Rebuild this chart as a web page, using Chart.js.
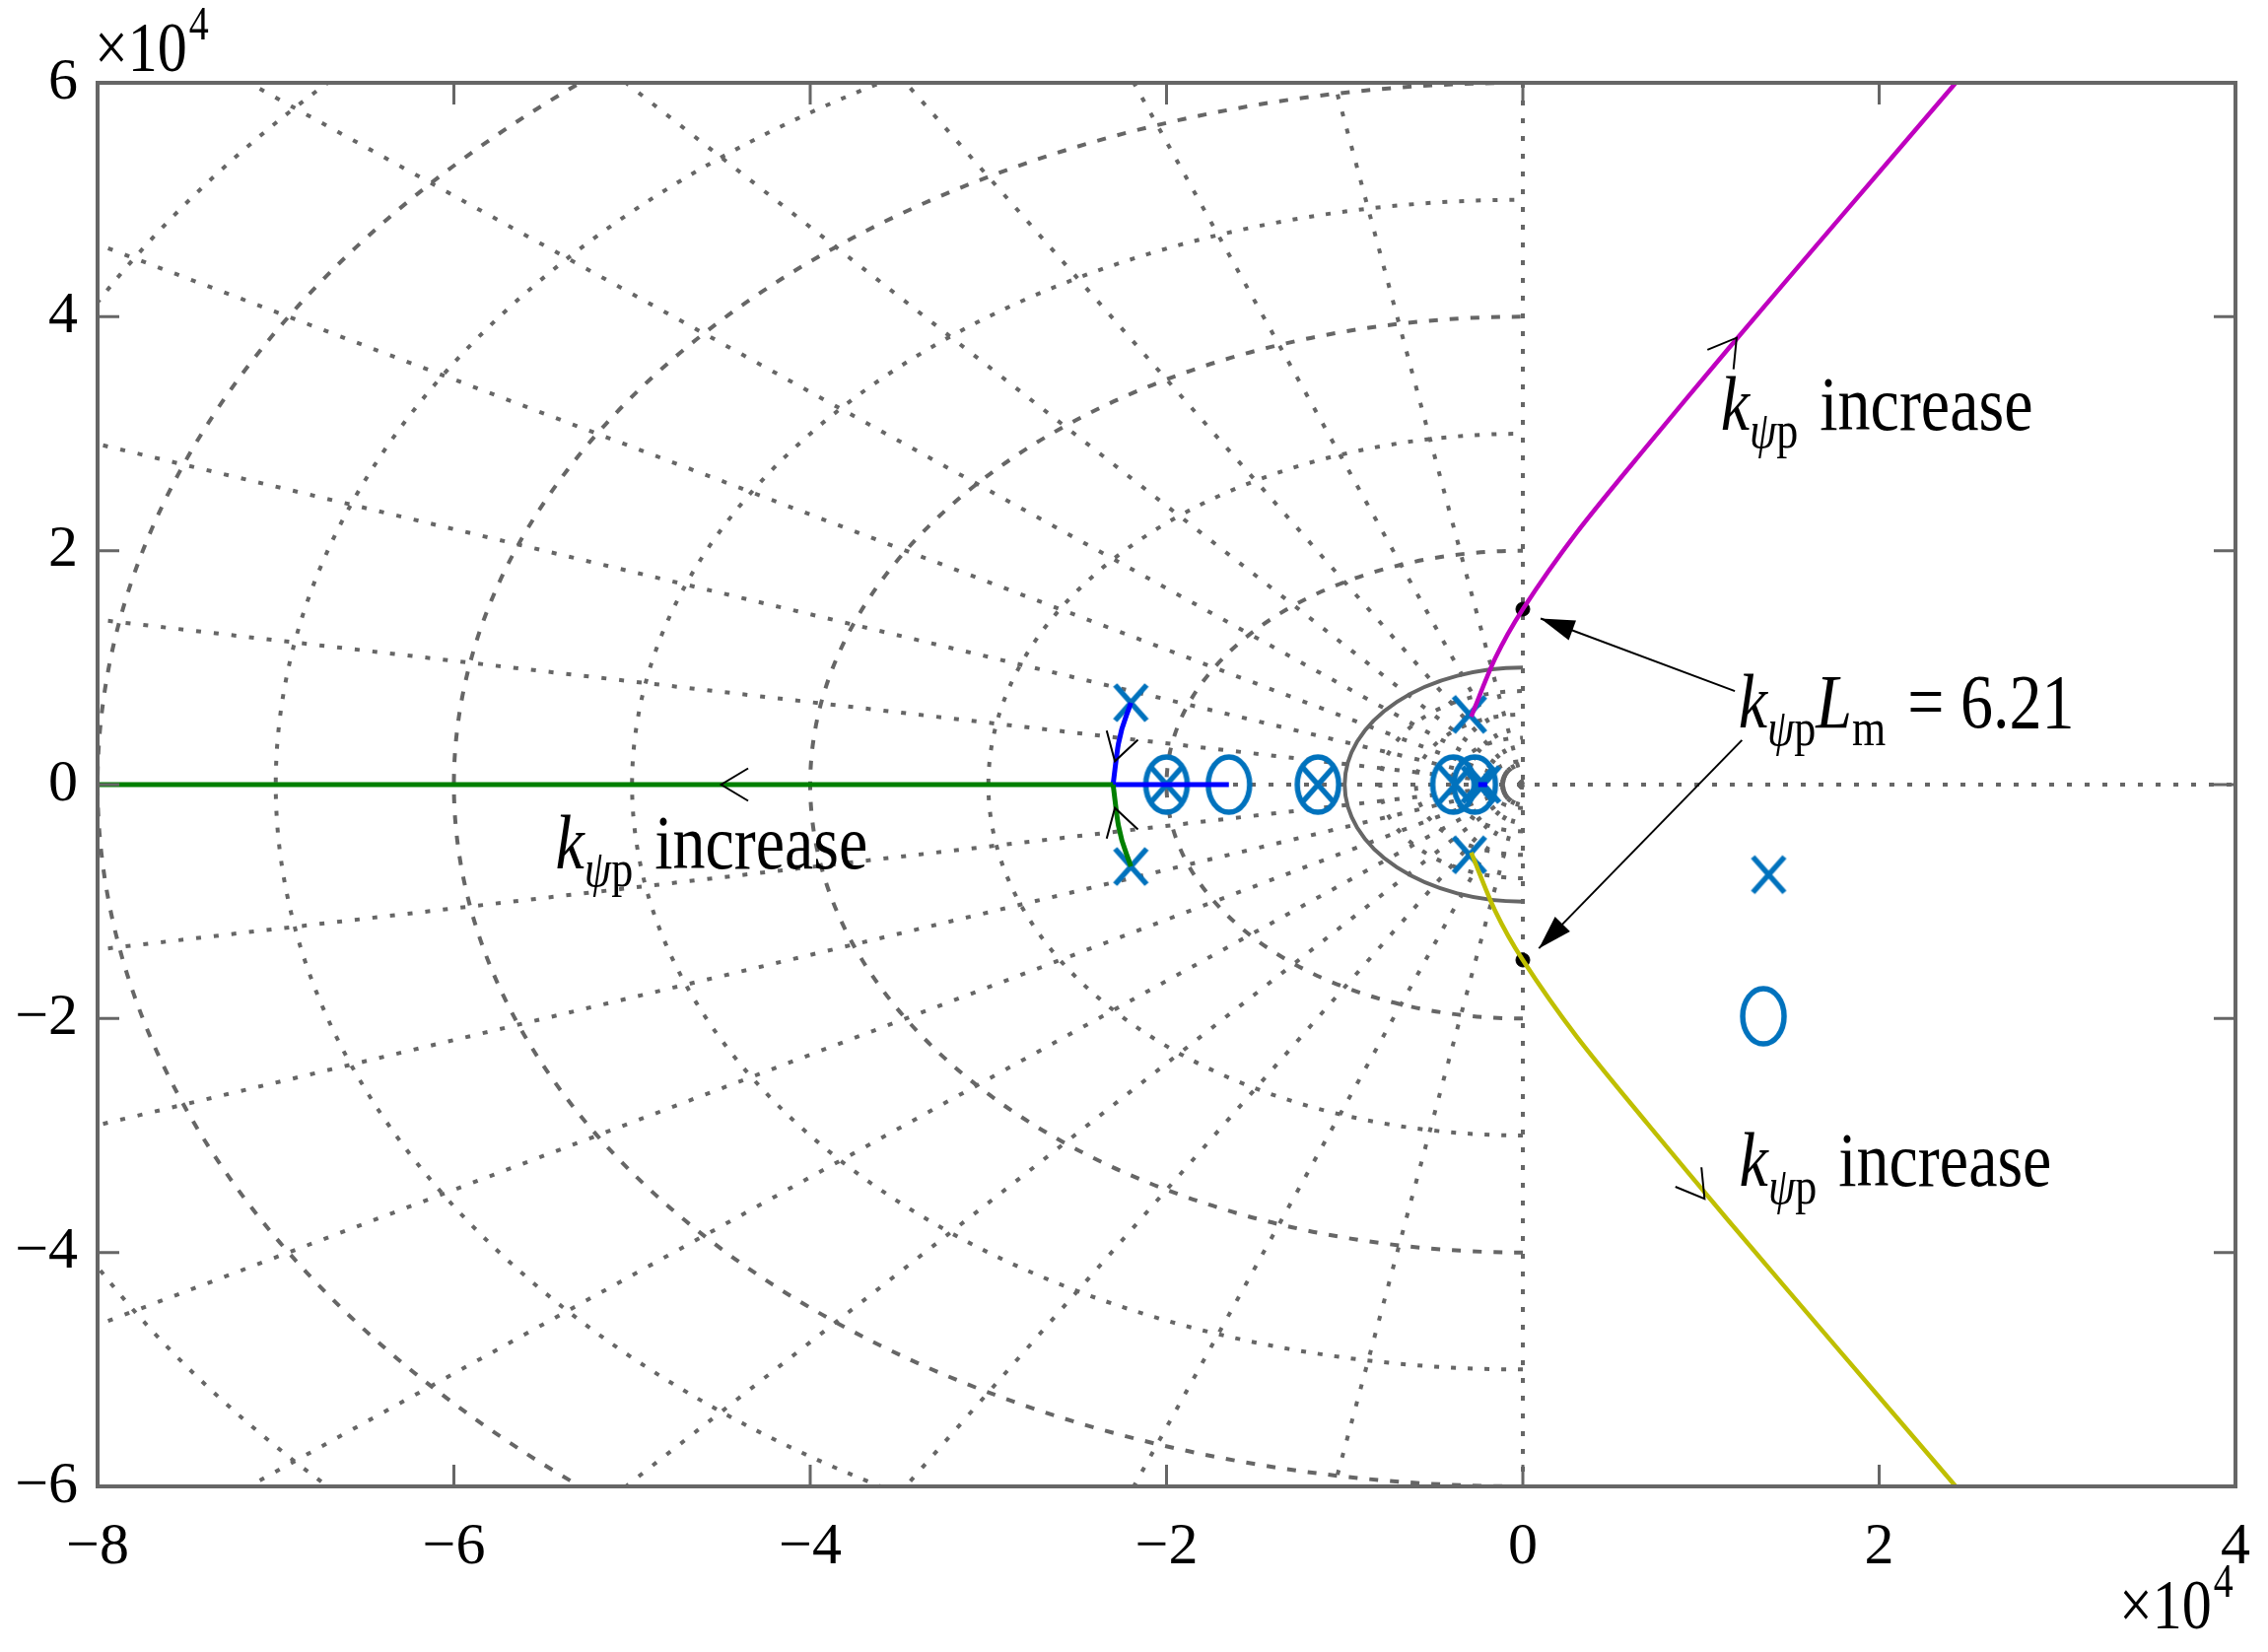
<!DOCTYPE html>
<html><head><meta charset="utf-8">
<script src="https://cdn.jsdelivr.net/npm/chart.js@4/dist/chart.umd.min.js"></script>
<style>html,body{margin:0;padding:0;background:#fff}</style></head>
<body><canvas id="c" width="2301" height="1676"></canvas>
<script>
const xTicks=[-8,-6,-4,-2,0,2,4];
const yTicks=[-6,-4,-2,0,2,4,6];
const greenAxis=[{x:-2.3,y:0},{x:-8,y:0}];
const greenCurve=[{x:-2.2,y:-0.7},{x:-2.27,y:-0.35},{x:-2.3,y:0}];
const blueCurve=[{x:-2.2,y:0.7},{x:-2.27,y:0.35},{x:-2.3,y:0}];
const blueAxis=[{x:-2.3,y:0},{x:-1.65,y:0}];
const blueSmall=[{x:-0.25,y:0},{x:-0.2,y:0}];
const magenta=[{x:-0.29,y:0.58},{x:-0.155,y:1.08},{x:0,y:1.5},{x:0.3,y:2.15},{x:0.7,y:2.9},{x:1.15,y:3.72},{x:1.8,y:4.88},{x:2.43,y:6.0}];
const yellow=[{x:-0.29,y:-0.58},{x:-0.155,y:-1.08},{x:0,y:-1.5},{x:0.3,y:-2.15},{x:0.7,y:-2.9},{x:1.15,y:-3.72},{x:1.8,y:-4.88},{x:2.43,y:-6.0}];
const poles=[{x:-2.2,y:0.7},{x:-2.2,y:-0.7},{x:-2.0,y:0},{x:-1.15,y:0},{x:-0.38,y:0},{x:-0.25,y:0},{x:-0.22,y:0},{x:-0.3,y:0.6},{x:-0.3,y:-0.6},{x:1.38,y:-0.77}];
const zeros=[{x:-2.0,y:0},{x:-1.65,y:0},{x:-1.15,y:0},{x:-0.39,y:0},{x:-0.27,y:0},{x:1.35,y:-1.98}];
const dots=[{x:0,y:1.5},{x:0,y:-1.5}];
const radii=[0.2,0.4,0.6,0.8,1,2,3,4,5,6,7,8,9,10];
const anglesDeg=[10,20,30,40,50,60,70,80];
const S=1e4;
const sc=a=>a.map(p=>({x:p.x*S,y:p.y*S}));
const GREY='#666666', MK='#0072BD';

function mkImg(kind){const c=document.createElement('canvas');c.width=52;c.height=66;const g=c.getContext('2d');
 g.strokeStyle=MK;g.lineWidth=5.5;g.lineCap='butt';
 if(kind==='o'){g.beginPath();g.ellipse(26,33,21,28,0,0,2*Math.PI);g.stroke();}
 else{g.beginPath();g.moveTo(10,15);g.lineTo(42,51);g.moveTo(42,15);g.lineTo(10,51);g.stroke();}
 return c;}
const xImg=mkImg('x'), oImg=mkImg('o');

const gridPlugin={id:'grid',beforeDatasetsDraw(ch){
 const {ctx,chartArea:a,scales:{x,y}}=ch;
 ctx.save();ctx.beginPath();ctx.rect(a.left,a.top,a.right-a.left,a.bottom-a.top);ctx.clip();
 const cx=x.getPixelForValue(0), cy=y.getPixelForValue(0);
 const kx=(x.getPixelForValue(S)-cx), ky=(cy-y.getPixelForValue(S));
 ctx.strokeStyle=GREY;
 radii.forEach(r=>{
  ctx.lineWidth=4; ctx.setLineDash(r===1?[]:(r>=2&&r%2===0?[9,12]:[5,12]));
  ctx.beginPath();ctx.ellipse(cx,cy,r*kx,r*ky,0,Math.PI/2,3*Math.PI/2);ctx.stroke();
 });
 ctx.setLineDash([5,13]);ctx.lineWidth=4;
 anglesDeg.forEach(d=>{const t=d*Math.PI/180;const L=20*S;
  [1,-1].forEach(s=>{ctx.beginPath();ctx.moveTo(cx,cy);
   ctx.lineTo(x.getPixelForValue(-L*Math.cos(t)),y.getPixelForValue(s*L*Math.sin(t)));ctx.stroke();});
 });
 ctx.beginPath();ctx.moveTo(a.left,cy);ctx.lineTo(a.right,cy);ctx.stroke();
 ctx.beginPath();ctx.moveTo(cx,a.top);ctx.lineTo(cx,a.bottom);ctx.stroke();
 ctx.restore();
},
afterDraw(ch){
 const {ctx,chartArea:a,scales:{x,y}}=ch;
 ctx.save();ctx.setLineDash([]);
 ctx.strokeStyle=GREY;ctx.lineWidth=4;ctx.strokeRect(a.left,a.top,a.right-a.left,a.bottom-a.top);
 ctx.lineWidth=3;
 xTicks.forEach(v=>{const p=x.getPixelForValue(v*S);ctx.beginPath();ctx.moveTo(p,a.bottom);ctx.lineTo(p,a.bottom-22);ctx.moveTo(p,a.top);ctx.lineTo(p,a.top+22);ctx.stroke();});
 yTicks.forEach(v=>{const p=y.getPixelForValue(v*S);ctx.beginPath();ctx.moveTo(a.left,p);ctx.lineTo(a.left+22,p);ctx.moveTo(a.right,p);ctx.lineTo(a.right-22,p);ctx.stroke();});
 const P=(px,py)=>[x.getPixelForValue(px*S),y.getPixelForValue(py*S)];
 ctx.strokeStyle='#000';ctx.lineWidth=2;
 const chev=(px,py,ang)=>{const [X,Y]=P(px,py);const l=32;
  ctx.beginPath();ctx.moveTo(X+l*Math.cos(ang+2.6),Y+l*Math.sin(ang+2.6));ctx.lineTo(X,Y);ctx.lineTo(X+l*Math.cos(ang-2.6),Y+l*Math.sin(ang-2.6));ctx.stroke();};
 chev(1.2,3.82,-0.93);chev(1.02,-3.54,0.93);chev(-4.5,0,Math.PI);
 chev(-2.29,0.2,1.85);chev(-2.29,-0.2,-1.85);
 const arrow=(x0,y0,x1,y1)=>{const [A,B]=P(x0,y0),[C,D]=P(x1,y1);
  ctx.beginPath();ctx.moveTo(A,B);ctx.lineTo(C,D);ctx.stroke();
  const t=Math.atan2(D-B,C-A),l=36;ctx.beginPath();ctx.moveTo(C,D);
  ctx.lineTo(C-l*Math.cos(t-0.3),D-l*Math.sin(t-0.3));ctx.lineTo(C-l*Math.cos(t+0.3),D-l*Math.sin(t+0.3));ctx.closePath();ctx.fillStyle='#000';ctx.fill();};
 arrow(1.19,0.8,0.1,1.42);arrow(1.23,0.38,0.09,-1.4);
 ctx.fillStyle='#000';ctx.textBaseline='alphabetic';ctx.textAlign='left';
 const F='"Liberation Serif", serif';
 const SY=1.2;
 const txt=(s,X,Y,font)=>{ctx.font=font;ctx.save();ctx.translate(X,Y);ctx.scale(1,SY);ctx.fillText(s,0,0);ctx.restore();return ctx.measureText(s).width;};
 const kp=(px,py,rest,lm)=>{let [X,Y]=P(px,py);
  X+=txt('k',X,Y,'italic 66px '+F);
  X+=txt('ψ',X,Y+18,'italic 44px '+F);
  X+=txt('p',X,Y+18,'44px '+F);
  if(lm){X+=txt('L',X,Y,'italic 66px '+F);X+=txt('m',X,Y+18,'44px '+F);}
  txt(rest,X+22,Y,'66px '+F);};
 kp(1.11,3.03,'increase');kp(1.215,-3.43,'increase');kp(-5.43,-0.72,'increase');
 kp(1.21,0.49,'= 6.21',true);
 const x104=(X,Y)=>{const w=txt('×10',X,Y,'60px '+F);txt('4',X+w+2,Y-32,'40px '+F);};
 x104(96,72);x104(2150,1652);
 ctx.restore();
}};

const line=(d,c,w)=>({data:sc(d),showLine:true,borderColor:c,borderWidth:w,pointRadius:0,fill:false,cubicInterpolationMode:'monotone'});
new Chart(document.getElementById('c'),{type:'scatter',
 data:{datasets:[
  line(greenAxis,'#008000',5),line(greenCurve,'#008000',5),line(blueCurve,'#0000FF',5),
  line(blueAxis,'#0000FF',5),line(blueSmall,'#0000FF',5),
  {...line(magenta,'#BF00BF',4.5),cubicInterpolationMode:'default',tension:0.3},
  {...line(yellow,'#BFBF00',4.5),cubicInterpolationMode:'default',tension:0.3},
  {data:sc(poles),pointStyle:xImg,pointRadius:20,showLine:false},
  {data:sc(zeros),pointStyle:oImg,pointRadius:20,showLine:false},
  {data:sc(dots),pointStyle:'circle',pointRadius:7,borderColor:'#000',backgroundColor:'#000',showLine:false}
 ]},
 options:{responsive:false,animation:false,clip:false,
  layout:{padding:{left:0,right:32,top:84,bottom:0}},
  plugins:{legend:{display:false},tooltip:{enabled:false}},
  scales:{
   x:{type:'linear',min:-8*S,max:4*S,afterBuildTicks(s){s.ticks=xTicks.map(v=>({value:v*S}));},
    afterFit(s){s.height=168;},grid:{display:false},border:{display:false},
    ticks:{color:'#000',padding:18,font:{family:'"Liberation Serif", serif',size:60},callback:v=>{const t=v/S;return t<0?'−'+(-t):String(t);}}},
   y:{type:'linear',min:-6*S,max:6*S,afterBuildTicks(s){s.ticks=yTicks.map(v=>({value:v*S}));},
    afterFit(s){s.width=99;},grid:{display:false},border:{display:false},
    ticks:{color:'#000',padding:12,font:{family:'"Liberation Serif", serif',size:60},callback:v=>{const t=v/S;return t<0?'−'+(-t):String(t);}}}
  }},
 plugins:[gridPlugin]});
</script></body></html>
